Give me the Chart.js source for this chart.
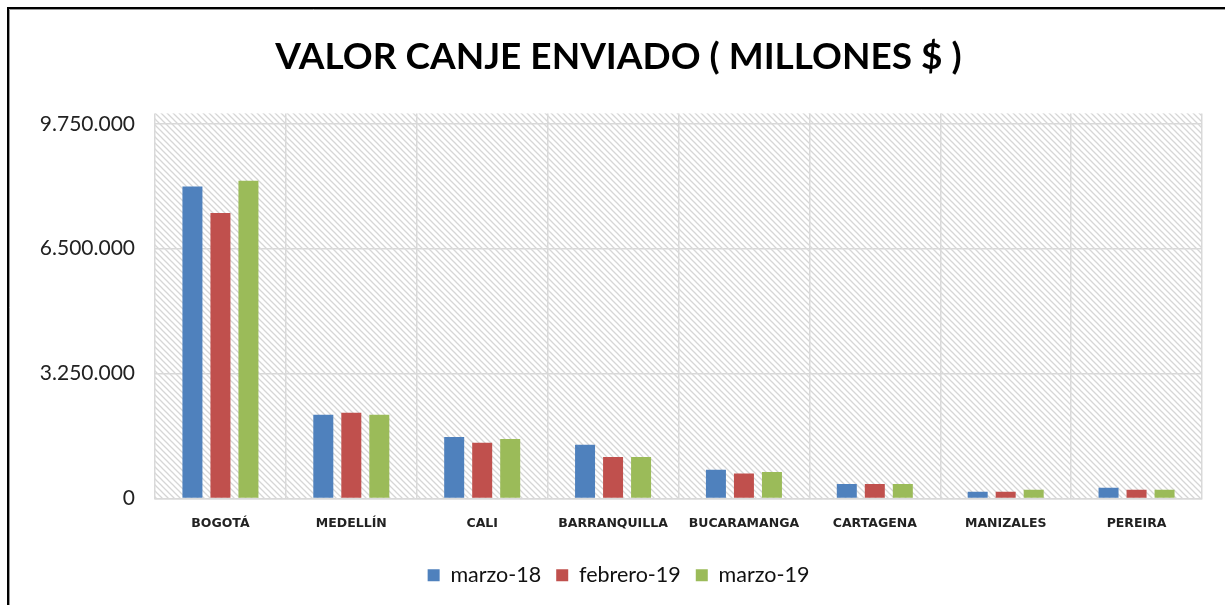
<!DOCTYPE html>
<html>
<head>
<meta charset="utf-8">
<script src="https://cdn.jsdelivr.net/npm/chart.js@4/dist/chart.umd.min.js"></script>
<style>
  html, body { margin: 0; padding: 0; background: #fff; }
  #wrap { width: 1225px; height: 605px; position: relative; }
</style>
</head>
<body>
<div id="wrap"><canvas id="grafico" width="1225" height="605"></canvas></div>
<script>
const categorias = ["BOGOTÁ", "MEDELLÍN", "CALI", "BARRANQUILLA", "BUCARAMANGA", "CARTAGENA", "MANIZALES", "PEREIRA"];
const marzo18   = [8120000, 2180000, 1600000, 1400000, 745000, 380000, 175000, 280000];
const febrero19 = [7430000, 2230000, 1450000, 1080000, 650000, 380000, 175000, 225000];
const marzo19   = [8270000, 2180000, 1545000, 1080000, 690000, 380000, 225000, 225000];
const yTicks = [0, 3250000, 6500000, 9750000];

const fmt = v => String(v).replace(/\B(?=(\d{3})+(?!\d))/g, ".");

// fondo rayado del area de trazado + marco negro
const fondo = {
  id: "fondo",
  beforeDraw(chart) {
    const { ctx, chartArea: a } = chart;
    ctx.save();
    ctx.fillStyle = "#fff";
    ctx.fillRect(0, 0, chart.width, chart.height);

    const p = document.createElement("canvas");
    p.width = 6; p.height = 6;
    const pc = p.getContext("2d");
    pc.strokeStyle = "#d6d6d6";
    pc.lineWidth = 1.3;
    pc.beginPath();
    pc.moveTo(-1, -1); pc.lineTo(7, 7);
    pc.moveTo(-1, 5); pc.lineTo(1, 7);
    pc.moveTo(5, -1); pc.lineTo(7, 1);
    pc.stroke();
    ctx.fillStyle = ctx.createPattern(p, "repeat");
    ctx.fillRect(a.left, a.top, a.right - a.left, a.bottom - a.top);

    ctx.strokeStyle = "#000";
    ctx.lineWidth = 2;
    ctx.beginPath();
    ctx.moveTo(8, chart.height);
    ctx.lineTo(8, 8);
    ctx.lineTo(chart.width, 8);
    ctx.stroke();
    ctx.strokeStyle = "#999";
    ctx.lineWidth = 1;
    ctx.beginPath();
    ctx.moveTo(9.5, chart.height);
    ctx.lineTo(9.5, 9.5);
    ctx.lineTo(chart.width, 9.5);
    ctx.stroke();
    ctx.restore();
  }
};

const ctx = document.getElementById("grafico").getContext("2d");
new Chart(ctx, {
  type: "bar",
  data: {
    labels: categorias,
    datasets: [
      { label: "marzo-18", data: marzo18, backgroundColor: "#4F81BD" },
      { label: "febrero-19", data: febrero19, backgroundColor: "#C0504D" },
      { label: "marzo-19", data: marzo19, backgroundColor: "#9BBB59" }
    ]
  },
  plugins: [fondo],
  options: {
    responsive: false,
    animation: false,
    categoryPercentage: 0.642,
    barPercentage: 0.714,
    layout: { padding: { left: 35, right: 23, top: 0, bottom: 9 } },
    plugins: {
      tooltip: { enabled: false },
      title: {
        display: true,
        text: "VALOR CANJE ENVIADO ( MILLONES $ )",
        color: "#000",
        font: { family: "Lato", size: 37, weight: "bold", lineHeight: 1.2 },
        padding: { top: 35, bottom: 34 }
      },
      legend: {
        position: "bottom",
        labels: {
          color: "#111",
          font: { family: "Lato", size: 21.5 },
          boxWidth: 12,
          boxHeight: 12,
          padding: 15
        }
      }
    },
    scales: {
      x: {
        grid: { color: "#d9d9d9", lineWidth: 1.5, offset: true, drawTicks: false },
        border: { color: "#d9d9d9", width: 1.5 },
        ticks: {
          color: "#222",
          font: { family: "DejaVu Sans", size: 12.5, weight: "bold" },
          padding: 18,
          maxRotation: 0,
          autoSkip: false
        }
      },
      y: {
        min: 0,
        max: 10020000,
        afterBuildTicks: s => { s.ticks = yTicks.map(v => ({ value: v })); },
        afterFit: s => { s.width = 120; },
        grid: { color: "#d9d9d9", lineWidth: 1.5, drawTicks: false },
        border: { display: false },
        ticks: {
          color: "#222",
          font: { family: "Lato", size: 21 },
          padding: 20,
          callback: v => fmt(v)
        }
      }
    }
  }
});
</script>
</body>
</html>
